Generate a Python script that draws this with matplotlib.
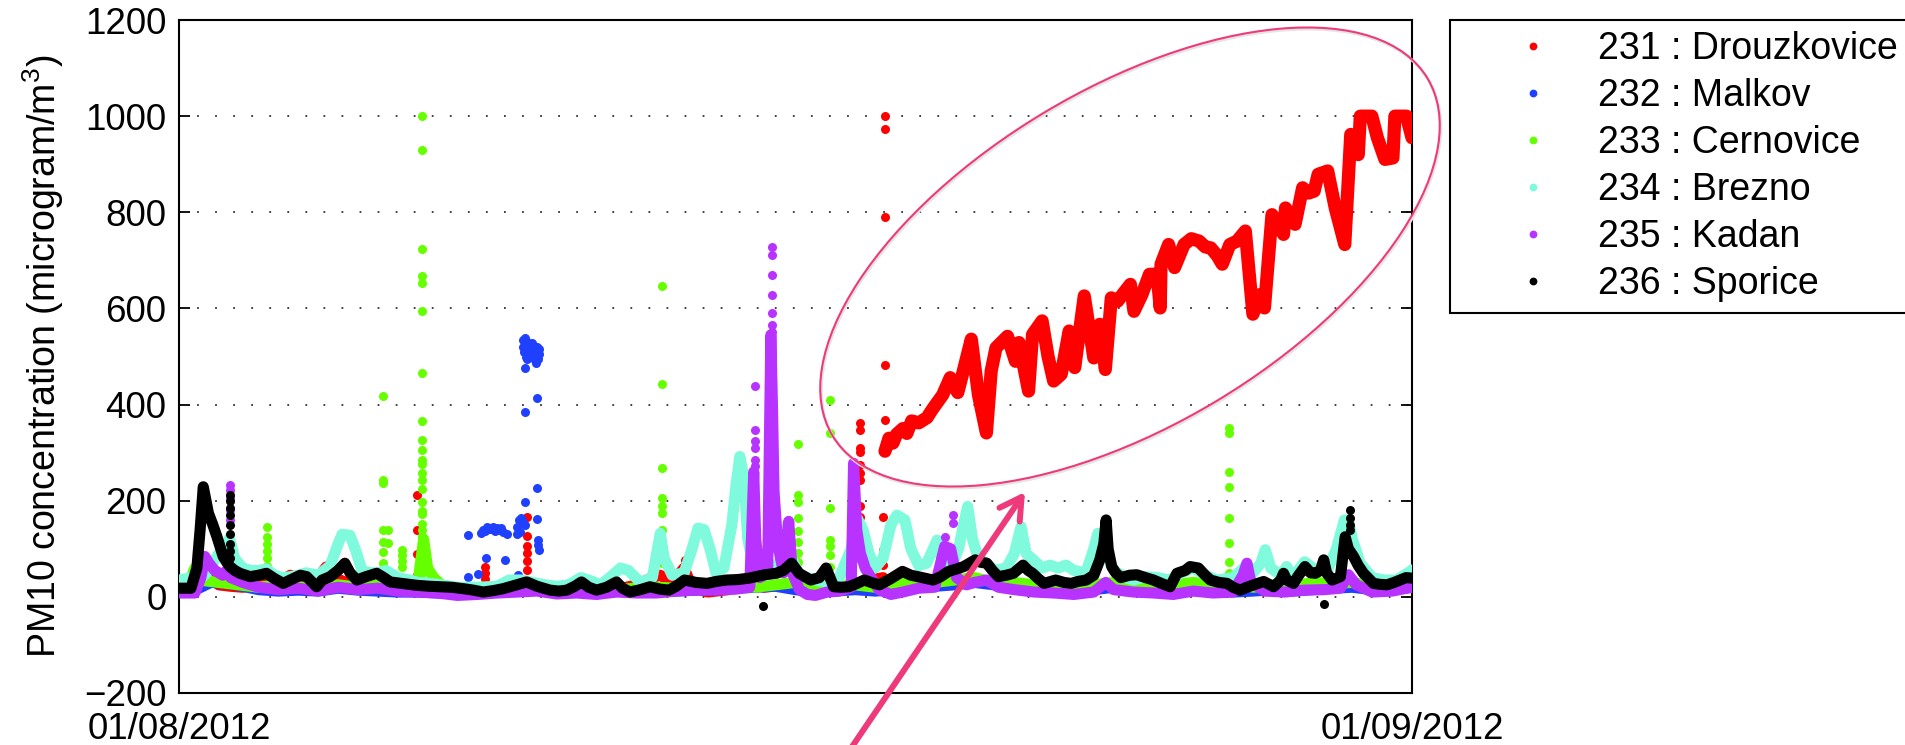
import numpy as np
import pandas as pd
import matplotlib
matplotlib.use("Agg")
import matplotlib.pyplot as plt
import matplotlib.dates as mdates
from matplotlib.lines import Line2D
from matplotlib.patches import Ellipse, FancyArrowPatch

plt.rcParams['font.family'] = ['Liberation Sans', 'DejaVu Sans']
plt.rcParams['mathtext.default'] = 'regular'

# ---- data: (day since 01/08/2012 00:00, PM10 value) ----
station_labels = ["231 : Drouzkovice", "232 : Malkov", "233 : Cernovice",
                  "234 : Brezno", "235 : Kadan", "236 : Sporice"]
station_colors = ["#ff0000", "#2040ff", "#66ff00", "#7ffadc", "#b833ff", "#000000"]

red_base = [(0, 15), (0.5, 20), (0.8, 40), (1.0, 25), (1.3, 22), (1.6, 20), (2.0, 25),
            (2.5, 30), (2.8, 45), (3.0, 35), (3.5, 40), (3.7, 62), (3.9, 40), (4.2, 30),
            (4.5, 25), (5.0, 20), (5.5, 18), (5.9, 25), (6.2, 20), (6.6, 15), (7.0, 12),
            (7.5, 15), (7.9, 15), (8.3, 12), (8.6, 20), (9.0, 15), (9.5, 12), (10.0, 15),
            (10.5, 18), (11.0, 15), (11.5, 25), (11.9, 40), (12.1, 45), (12.4, 30),
            (12.7, 60), (12.9, 20), (13.3, 10), (13.8, 15), (14.3, 35), (14.7, 20),
            (15.2, 25), (15.7, 20), (16.2, 25), (16.7, 20), (17.1, 30), (17.4, 35), (17.7, 40)]
red_trend = [(17.75, 303), (17.85, 330), (17.95, 320), (18.04, 338), (18.2, 350),
             (18.3, 340), (18.42, 366), (18.6, 362), (18.81, 373), (18.9, 385), (19.0, 397),
             (19.2, 420), (19.39, 456), (19.48, 440), (19.58, 425), (19.75, 480),
             (19.92, 536), (20.1, 420), (20.30, 341), (20.42, 470), (20.54, 518),
             (20.83, 542), (21.03, 490), (21.12, 529), (21.36, 428), (21.46, 546),
             (21.70, 574), (21.85, 500), (21.99, 449), (22.18, 463), (22.38, 553),
             (22.52, 477), (22.76, 626), (23.0, 497), (23.15, 567), (23.29, 473),
             (23.44, 622), (23.6, 615), (23.72, 629), (23.92, 650), (24.01, 594),
             (24.21, 629), (24.40, 671), (24.59, 671), (24.67, 601), (24.69, 692),
             (24.88, 733), (25.03, 685), (25.27, 733), (25.45, 745), (25.65, 740),
             (25.8, 728), (25.94, 726), (26.1, 710), (26.23, 692), (26.42, 733),
             (26.6, 740), (26.81, 761), (27.0, 588), (27.19, 629), (27.29, 601),
             (27.48, 795), (27.6, 780), (27.77, 754), (27.82, 809), (28.06, 775),
             (28.25, 851), (28.4, 840), (28.54, 844), (28.64, 879), (28.88, 886),
             (29.07, 809), (29.31, 733), (29.46, 962), (29.65, 920), (29.70, 1000),
             (29.99, 1000), (30.13, 955), (30.32, 910), (30.52, 913), (30.57, 1000),
             (30.86, 1000), (31.0, 955)]
red_spikes = [(5.98, 212), (5.98, 139), (5.98, 89), (5.98, 46), (7.69, 62), (7.69, 50),
              (7.69, 38), (8.74, 167), (8.74, 126), (8.74, 105), (8.74, 91), (8.74, 74),
              (8.74, 56), (12.71, 77), (12.71, 56), (17.12, 361), (17.12, 347), (17.12, 309),
              (17.12, 302), (17.12, 275), (17.12, 258), (17.12, 243), (17.12, 188),
              (17.12, 167), (17.7, 167), (17.7, 98), (17.7, 66), (17.75, 1000),
              (17.75, 974), (17.75, 791), (17.75, 482), (17.75, 367)]

blue_base = [(0, 10), (0.5, 18), (0.8, 30), (1.2, 28), (1.6, 22), (2.0, 15), (2.5, 12),
             (3.0, 14), (3.5, 12), (4.0, 18), (4.5, 14), (5.0, 12), (5.5, 10), (6.0, 10),
             (6.5, 8), (7.0, 6), (7.5, 8), (8.0, 10), (8.5, 12), (9.0, 14), (9.5, 8),
             (10.0, 10), (10.5, 8), (11.0, 12), (11.5, 10), (12.0, 10), (12.5, 12),
             (13.0, 14), (13.5, 15), (14.0, 18), (14.5, 20), (15.0, 22), (15.5, 15),
             (16.0, 10), (16.5, 12), (17.0, 15), (17.5, 12), (18.0, 15), (18.5, 20),
             (19.0, 22), (19.5, 25), (20.0, 30), (20.5, 25), (21.0, 18), (21.5, 15),
             (22.0, 12), (22.5, 10), (23.0, 15), (23.5, 20), (24.0, 18), (24.5, 15),
             (25.0, 12), (25.5, 15), (26.0, 12), (26.5, 10), (27.0, 12), (27.5, 15),
             (28.0, 12), (28.5, 15), (29.0, 18), (29.5, 20), (30.0, 15), (30.5, 15), (31.0, 20)]
blue_spikes = [(7.27, 129), (7.27, 42), (7.52, 48), (7.73, 80), (8.19, 77), (7.6, 132),
               (7.65, 140), (7.7, 136), (7.75, 145), (7.8, 141), (7.85, 142), (7.9, 146),
               (7.95, 138), (8.0, 143), (8.05, 140), (8.1, 144), (8.15, 135), (8.24, 130),
               (8.49, 145), (8.5, 130), (8.55, 160), (8.58, 135), (8.6, 165), (8.65, 155),
               (8.7, 150), (8.7, 198), (8.99, 226), (8.99, 161), (9.03, 118), (9.03, 108),
               (9.05, 98), (8.53, 45), (8.7, 385), (8.99, 414), (8.7, 476),
               (8.64, 520), (8.66, 535), (8.70, 538), (8.74, 530), (8.78, 525), (8.82, 515),
               (8.86, 505), (8.9, 498), (8.94, 492), (8.98, 487), (9.02, 495), (9.05, 505),
               (8.68, 510), (8.72, 500), (8.76, 495), (8.8, 505), (8.84, 520), (8.88, 528),
               (8.92, 522), (8.96, 512), (9.0, 520), (9.04, 515)]

green_base = [(0, 25), (0.3, 40), (0.4, 60), (0.5, 35), (1.0, 30), (1.5, 25), (2.0, 20),
              (2.5, 25), (3.0, 20), (3.5, 22), (4.0, 25), (4.5, 20), (5.0, 25), (5.5, 20),
              (6.0, 25), (6.15, 120), (6.25, 60), (6.4, 40), (6.6, 25), (7.0, 15), (7.5, 12),
              (8.0, 15), (8.5, 12), (9.0, 15), (9.5, 12), (10.0, 15), (10.5, 12), (11.0, 15),
              (11.5, 18), (12.0, 20), (12.5, 18), (13.0, 20), (13.5, 22), (14.0, 25),
              (14.5, 20), (15.0, 25), (15.5, 30), (16.0, 25), (16.5, 20), (17.0, 25),
              (17.5, 20), (18.0, 30), (18.5, 25), (19.0, 30), (19.5, 35), (20.0, 40),
              (20.5, 30), (21.0, 30), (21.5, 25), (22.0, 25), (22.5, 20), (23.0, 25),
              (23.5, 30), (24.0, 25), (24.5, 20), (25.0, 25), (25.5, 30), (26.0, 25),
              (26.4, 40), (26.6, 30), (27.0, 20), (27.5, 25), (28.0, 22), (28.5, 30),
              (29.0, 28), (29.5, 30), (30.0, 22), (30.5, 20), (31.0, 25)]
green_spikes = [(2.2, 146), (2.2, 125), (2.2, 110), (2.2, 95), (2.2, 80), (2.2, 65),
                (5.14, 417), (5.14, 243), (5.14, 237), (5.14, 139), (5.14, 115), (5.14, 94),
                (5.14, 70), (5.26, 139), (5.26, 112), (5.6, 98), (5.6, 88), (5.6, 75),
                (5.6, 63), (6.12, 1000), (6.12, 930), (6.12, 723), (6.12, 668), (6.12, 653),
                (6.12, 594), (6.12, 465), (6.12, 366), (6.12, 327), (6.12, 306), (6.12, 285),
                (6.12, 277), (6.12, 258), (6.12, 243), (6.12, 225), (6.12, 198), (6.12, 179),
                (6.12, 173), (6.12, 152), (6.12, 140), (6.12, 127), (6.12, 110), (6.12, 95),
                (6.12, 80), (6.12, 65), (6.12, 50), (12.14, 646), (12.14, 443), (12.14, 269),
                (12.14, 205), (12.14, 190), (12.14, 174), (12.14, 139), (12.14, 98),
                (12.14, 70), (15.56, 318), (15.56, 212), (15.56, 198), (15.56, 164),
                (15.56, 136), (15.56, 115), (15.56, 91), (15.56, 73), (16.37, 410),
                (16.37, 341), (16.37, 184), (16.37, 118), (16.37, 105), (16.37, 87),
                (16.37, 63), (26.39, 351), (26.39, 341), (26.39, 259), (26.39, 228),
                (26.39, 164), (26.39, 112), (26.39, 73), (26.39, 50)]

cyan_base = [(0, 35), (0.3, 40), (0.5, 35), (0.7, 50), (1.0, 90), (1.2, 110), (1.27, 122),
             (1.4, 80), (1.6, 60), (1.8, 55), (2.0, 55), (2.2, 58), (2.4, 45), (2.6, 40),
             (2.8, 42), (3.0, 45), (3.2, 50), (3.5, 45), (3.8, 65), (4.0, 110), (4.1, 130),
             (4.3, 128), (4.45, 95), (4.6, 55), (4.8, 50), (5.0, 50), (5.2, 55), (5.5, 40),
             (5.8, 35), (6.0, 30), (6.3, 28), (6.6, 25), (7.0, 20), (7.5, 20), (8.0, 22),
             (8.3, 35), (8.6, 35), (8.9, 30), (9.2, 25), (9.5, 22), (9.8, 25), (10.1, 40),
             (10.3, 35), (10.6, 25), (10.9, 45), (11.1, 60), (11.3, 55), (11.6, 30),
             (11.9, 40), (12.1, 132), (12.2, 80), (12.4, 45), (12.7, 50), (12.9, 100),
             (13.05, 143), (13.2, 140), (13.35, 100), (13.5, 50), (13.7, 60), (13.9, 150),
             (14.0, 230), (14.1, 292), (14.2, 250), (14.3, 120), (14.45, 60), (14.6, 50),
             (14.8, 45), (15.0, 60), (15.2, 90), (15.3, 153), (15.4, 80), (15.6, 45),
             (15.8, 40), (16.0, 35), (16.3, 30), (16.6, 40), (16.9, 100), (17.05, 164),
             (17.2, 139), (17.35, 90), (17.5, 60), (17.7, 80), (17.9, 150), (18.05, 170),
             (18.25, 160), (18.4, 100), (18.6, 65), (18.8, 70), (19.06, 118), (19.2, 70),
             (19.4, 60), (19.6, 100), (19.75, 160), (19.83, 188), (19.95, 120), (20.1, 80),
             (20.3, 70), (20.5, 55), (20.8, 60), (21.0, 90), (21.17, 146), (21.3, 90),
             (21.48, 77), (21.7, 60), (21.9, 66), (22.1, 60), (22.3, 66), (22.5, 55),
             (22.8, 50), (23.0, 100), (23.1, 132), (23.25, 100), (23.5, 55), (23.8, 40),
             (24.0, 35), (24.3, 42), (24.6, 40), (24.9, 35), (25.2, 50), (25.5, 60),
             (25.8, 45), (26.1, 35), (26.5, 40), (26.85, 66), (27.0, 50), (27.2, 70),
             (27.31, 98), (27.45, 60), (27.7, 45), (27.85, 63), (28.0, 40), (28.3, 73),
             (28.5, 60), (28.7, 55), (28.9, 60), (29.1, 100), (29.3, 160), (29.4, 160),
             (29.5, 120), (29.7, 70), (30.0, 40), (30.3, 35), (30.6, 35), (30.9, 50), (31.0, 56)]

purple_base = [(0, 8), (0.4, 8), (0.55, 40), (0.65, 84), (0.75, 70), (0.9, 55), (1.1, 45),
               (1.25, 60), (1.3, 40), (1.6, 30), (2.0, 20), (2.5, 15), (3.0, 18), (3.5, 12),
               (4.0, 20), (4.5, 15), (5.0, 18), (5.5, 12), (6.0, 10), (6.5, 8), (7.0, 3),
               (7.5, 5), (8.0, 8), (8.5, 10), (9.0, 12), (9.5, 6), (10.0, 8), (10.5, 5),
               (11.0, 10), (11.5, 8), (12.0, 8), (12.5, 12), (13.0, 14), (13.5, 14),
               (14.0, 16), (14.35, 20), (14.45, 260), (14.5, 120), (14.6, 40), (14.8, 50),
               (14.88, 545), (14.92, 400), (14.96, 220), (15.05, 110), (15.2, 50),
               (15.33, 157), (15.42, 50), (15.6, 15), (15.8, 5), (16.0, 3), (16.3, 10),
               (16.6, 12), (16.9, 20), (16.96, 278), (17.04, 139), (17.13, 91), (17.25, 60),
               (17.38, 42), (17.6, 15), (17.9, 5), (18.2, 10), (18.6, 18), (19.0, 20),
               (19.25, 105), (19.4, 100), (19.55, 40), (19.8, 25), (20.0, 30), (20.3, 35),
               (20.6, 20), (21.0, 15), (21.5, 10), (22.0, 8), (22.5, 5), (23.0, 10),
               (23.3, 30), (23.5, 15), (24.0, 10), (24.5, 8), (25.0, 5), (25.5, 12),
               (26.0, 8), (26.5, 10), (26.75, 45), (26.85, 70), (26.95, 30), (27.3, 12),
               (27.8, 10), (28.3, 14), (28.8, 15), (29.2, 18), (29.4, 46), (29.6, 25),
               (30.0, 10), (30.5, 12), (31.0, 20)]
purple_spikes = [(1.28, 233), (1.28, 223), (1.28, 205), (1.28, 181), (1.28, 160),
                 (14.47, 439), (14.47, 347), (14.47, 325), (14.47, 309), (14.47, 285),
                 (14.47, 272), (14.9, 727), (14.9, 712), (14.9, 670), (14.9, 628),
                 (14.9, 591), (14.9, 566), (14.9, 552), (19.47, 170), (19.47, 153), (19.26, 125)]

black_base = [(0.0, 18), (0.3, 18), (0.45, 60), (0.53, 139), (0.61, 229), (0.68, 200),
              (0.74, 174), (0.85, 150), (0.95, 126), (1.05, 100), (1.11, 84), (1.2, 72),
              (1.28, 63), (1.4, 55), (1.53, 49), (1.79, 42), (2.0, 45), (2.2, 49), (2.4, 38),
              (2.62, 28), (2.87, 38), (3.05, 45), (3.21, 42), (3.46, 21), (3.6, 35), (3.8, 42),
              (4.0, 55), (4.17, 70), (4.3, 50), (4.47, 35), (4.7, 42), (4.97, 49), (5.15, 40),
              (5.31, 31), (5.6, 28), (5.98, 24), (6.3, 22), (6.56, 21), (6.85, 20), (7.15, 17),
              (7.4, 14), (7.65, 10), (7.9, 13), (8.15, 17), (8.45, 24), (8.74, 31), (9.0, 22),
              (9.33, 14), (9.55, 12), (9.75, 14), (9.95, 22), (10.12, 31), (10.3, 20),
              (10.5, 14), (10.75, 20), (11.0, 31), (11.15, 18), (11.34, 10), (11.6, 15),
              (11.84, 21), (12.1, 16), (12.32, 14), (12.5, 22), (12.71, 35), (13.0, 30),
              (13.28, 28), (13.5, 32), (13.76, 35), (14.05, 36), (14.34, 39), (14.5, 42),
              (14.73, 46), (15.02, 49), (15.2, 55), (15.4, 70), (15.59, 49), (15.88, 35),
              (16.1, 40), (16.27, 60), (16.46, 21), (16.65, 20), (16.84, 21), (17.05, 28),
              (17.23, 35), (17.4, 30), (17.61, 25), (17.9, 38), (18.19, 53), (18.4, 45),
              (18.58, 42), (18.8, 38), (18.96, 35), (19.15, 42), (19.35, 53), (19.55, 58),
              (19.73, 63), (20.02, 77), (20.15, 72), (20.31, 70), (20.45, 55), (20.6, 42),
              (20.8, 45), (20.98, 49), (21.22, 66), (21.35, 55), (21.46, 49), (21.6, 38),
              (21.75, 28), (22.04, 35), (22.25, 30), (22.43, 28), (22.6, 32), (22.81, 35),
              (23.0, 45), (23.15, 77), (23.25, 110), (23.31, 160), (23.36, 100), (23.45, 63),
              (23.55, 50), (23.68, 40), (23.9, 45), (24.08, 46), (24.3, 40), (24.5, 35),
              (24.7, 28), (24.92, 21), (25.09, 49), (25.3, 55), (25.42, 63), (25.63, 60),
              (25.8, 45), (25.93, 35), (26.15, 30), (26.35, 28), (26.5, 20), (26.68, 14),
              (26.85, 20), (27.02, 25), (27.27, 32), (27.52, 21), (27.7, 35), (27.77, 49),
              (27.85, 35), (28.02, 28), (28.15, 45), (28.31, 63), (28.45, 50), (28.57, 49),
              (28.7, 55), (28.78, 77), (28.85, 50), (28.99, 35), (29.2, 42), (29.32, 125),
              (29.4, 100), (29.53, 84), (29.65, 65), (29.78, 49), (30.03, 28), (30.2, 26),
              (30.37, 25), (30.55, 30), (30.7, 35), (30.85, 40), (31.0, 39)]
black_spikes = [(1.29, 212), (1.29, 200), (1.29, 185), (1.29, 170), (1.29, 150),
                (1.29, 130), (1.29, 110), (1.29, 95), (1.29, 80), (14.68, -20), (28.78, -15),
                (29.45, 181), (29.45, 165), (29.45, 150), (29.45, 140)]

start = pd.Timestamp("2012-08-01")
end = pd.Timestamp("2012-09-01")


def to_xy(pairs):
    d = np.array([p[0] for p in pairs], dtype=float)
    v = np.array([p[1] for p in pairs], dtype=float)
    return start + pd.to_timedelta(d, unit="D"), v


traces = [[red_base, red_trend], [blue_base], [green_base], [cyan_base], [purple_base], [black_base]]
spikes = [red_spikes, blue_spikes, green_spikes, [], purple_spikes, black_spikes]

fig = plt.figure(figsize=(19.05, 7.45), dpi=100)
ax = fig.add_axes([179 / 1905, 52 / 745, 1233 / 1905, 673 / 745])

for i, color in enumerate(station_colors):
    z = 3 + i
    for tr in traces[i]:
        t, v = to_xy(tr)
        width = 9.5 if tr is red_trend else 8
        ax.plot(t, v, color=color, lw=width, solid_joinstyle='round',
                solid_capstyle='round', zorder=z)
    if spikes[i]:
        t, v = to_xy(spikes[i])
        ax.plot(t, v, 'o', ms=6.5, mew=0, color=color, zorder=z)

ax.set_xlim(start, end)
ax.set_ylim(-200, 1200)
ax.set_yticks(np.arange(-200, 1201, 200))
ax.set_xticks([start, end])
ax.xaxis.set_major_formatter(mdates.DateFormatter('%d/%m/%Y'))
ax.yaxis.grid(True, linestyle=(0, (1, 9)), lw=1.3, color='#333333')
ax.set_axisbelow(True)
ax.tick_params(axis='both', direction='in', length=8, width=1.3, labelsize=26.5,
               right=True, top=True)
ax.tick_params(axis='y', pad=9)
ax.tick_params(axis='x', pad=14)
for s in ax.spines.values():
    s.set_linewidth(1.5)

ax.set_ylabel('PM10 concentration (microgram/m$^3$)', fontsize=27)
ax.yaxis.set_label_coords(-0.092, 0.5)

handles = [Line2D([], [], ls='none', marker='o', ms=5.6, mew=0, color=c) for c in station_colors]
leg = ax.legend(handles, station_labels, loc='upper left', fontsize=27,
                bbox_to_anchor=(1450 / 1905, 1 - 20 / 745), bbox_transform=fig.transFigure,
                borderaxespad=0, borderpad=0.3, handlelength=3.8, handletextpad=-0.14,
                labelspacing=0.29, fancybox=False, framealpha=1, edgecolor='black')
leg.get_frame().set_linewidth(1.5)

# annotation: ellipse around the drifting sensor and an arrow pointing at it
pink = '#ee3a7a'
shadow = Ellipse((11.31, (745 - 258.5) / 100), 6.94, 3.36, angle=31,
                 transform=fig.dpi_scale_trans, fill=False, ec='#e4e4e4', lw=2.2)
fig.add_artist(shadow)
ring = Ellipse((11.30, (745 - 257) / 100), 6.94, 3.36, angle=31, transform=fig.dpi_scale_trans,
               fill=False, ec=pink, lw=1.5)
fig.add_artist(ring)
arrow = FancyArrowPatch((8.43, -0.15), (10.25, (745 - 492) / 100), transform=fig.dpi_scale_trans,
                        arrowstyle='->,head_length=0.7,head_width=0.4', mutation_scale=22,
                        lw=4.3, color=pink, shrinkA=0, shrinkB=0)
fig.add_artist(arrow)

fig.savefig('out.png', dpi=100)
